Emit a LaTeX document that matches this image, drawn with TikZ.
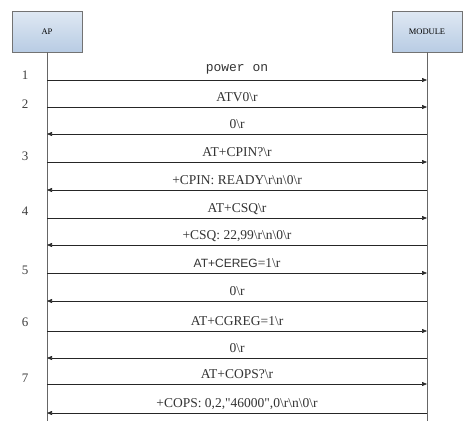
\documentclass[tikz,border=0pt]{standalone}
\usepackage{fontspec}
\setmainfont{Liberation Serif}
\setsansfont{Liberation Sans}
\setmonofont{Liberation Mono}
\newfontfamily\plainserif{Liberation Serif}
\usetikzlibrary{arrows.meta}
\newcommand{\bs}{\textbackslash}
\newcommand{\dq}{{\plainserif\symbol{34}}}
\definecolor{boxblue}{RGB}{184,204,228}

\begin{document}
\begin{tikzpicture}[x=1pt, y=-1pt,
  box/.style = {shape=rectangle, draw=black!55, minimum width=70pt,
    minimum height=41pt, top color=boxblue!45, bottom color=boxblue,
    font=\fontsize{8.5}{10}\selectfont},
  life/.style = {draw=black!60, line width=0.8pt},
  msg/.style = {draw=black!85, line width=0.6pt,
    -{Triangle[length=5pt,width=4pt]}},
  lbl/.style = {anchor=base, inner sep=0pt, text=black!80,
    font=\fontsize{13.5}{15}\selectfont},
  num/.style = {text=black!75, font=\fontsize{13}{15}\selectfont}]
  \useasboundingbox (0,0) rectangle (468,424);
  \node[box] (ap) at (47,31.5) {AP};
  \node[box] (module) at (427,31.5) {MODULE};
  \coordinate (apend) at (47,421);
  \coordinate (moduleend) at (427,421);
  \draw[life] (ap) -- (apend);
  \draw[life] (module) -- (moduleend);
  \foreach \y [count=\i] in {75,104,156,211,270,322,378}
    \node[num] (step\i) at (25,\y) {\i};
  \foreach \y/\dir/\txt [count=\i] in {
      80/1/{\raisebox{3pt}{\ttfamily\fontsize{13}{15}\selectfont power on}},
      107/1/{ATV0\bs r},
      134/0/{0\bs r},
      162/1/{AT+CPIN?\bs r},
      190/0/{+CPIN: READY\bs r\bs n\bs 0\bs r},
      218/1/{AT+CSQ\bs r},
      245/0/{+CSQ: 22,99\bs r\bs n\bs 0\bs r},
      273/1/{{\sffamily\fontsize{12}{14}\selectfont AT+CEREG}=1\bs r},
      301/0/{0\bs r},
      331/1/{AT+CGREG=1\bs r},
      358/0/{0\bs r},
      384/1/{AT+COPS?\bs r},
      413/0/{+COPS: 0,2,\dq 46000\dq,0\bs r\bs n\bs 0\bs r}} {
    \coordinate (apm\i) at (47,\y);
    \coordinate (modm\i) at (427,\y);
    \node[lbl] (msg\i) at (237,\y-6) {\txt};
    \ifnum\dir=1
      \draw[msg] (apm\i) -- (modm\i);
    \else
      \draw[msg] (modm\i) -- (apm\i);
    \fi
  }
\end{tikzpicture}
\end{document}
